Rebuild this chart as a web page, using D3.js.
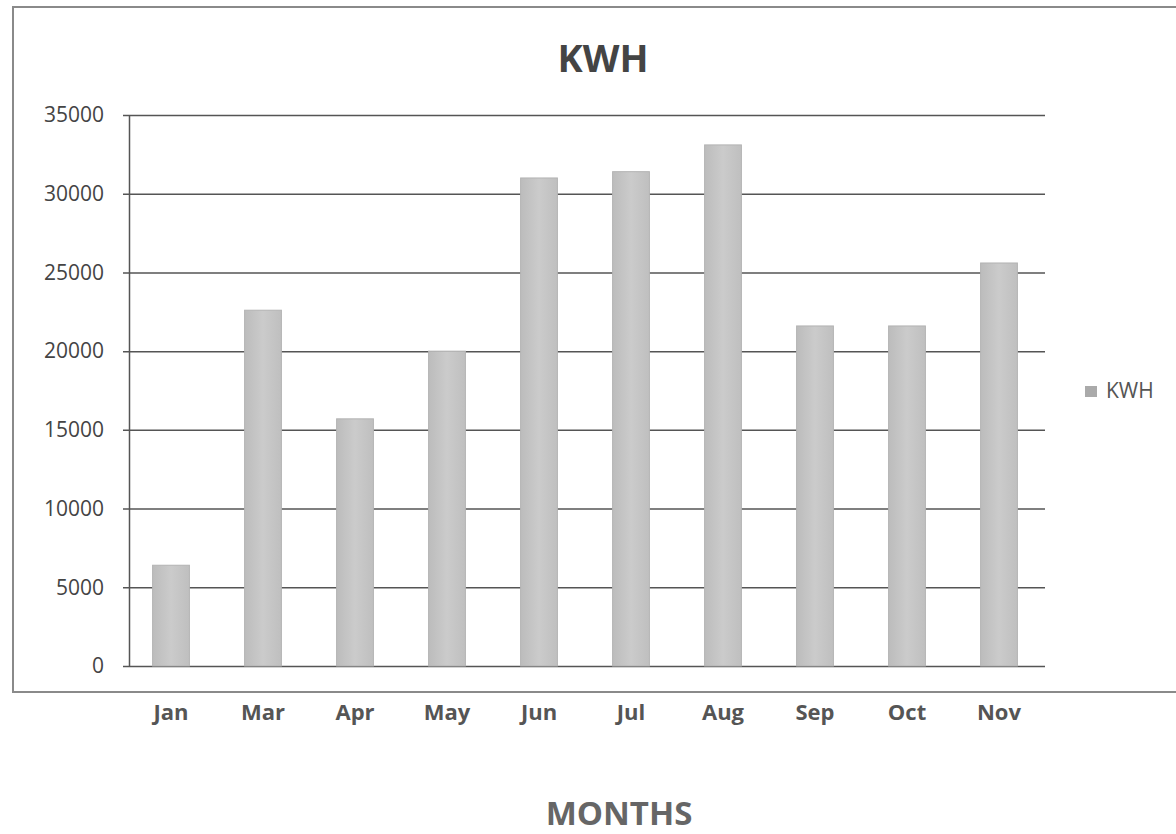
<!DOCTYPE html>
<html>
<head>
<meta charset="utf-8">
<script src="https://cdn.jsdelivr.net/npm/d3@7"></script>
<style>
  body { margin: 0; background: #fff; }
  text { font-family: "Open Sans", "Noto Sans", sans-serif; }
</style>
</head>
<body>
<script>
// chart data
const months = ["Jan", "Mar", "Apr", "May", "Jun", "Jul", "Aug", "Sep", "Oct", "Nov"];
const kwh = [6400, 22600, 15700, 20000, 31000, 31400, 33100, 21600, 21600, 25600];
const yTicks = [0, 5000, 10000, 15000, 20000, 25000, 30000, 35000];

const width = 1176, height = 834;
const plot = { left: 129, right: 1045, top: 115, bottom: 666 };

const svg = d3.select("body").append("svg")
  .attr("width", width)
  .attr("height", height);

// bar shading
const grad = svg.append("defs").append("linearGradient")
  .attr("id", "barFill").attr("x1", 0).attr("x2", 1).attr("y1", 0).attr("y2", 0);
grad.append("stop").attr("offset", "0%").attr("stop-color", "#bcbcbc");
grad.append("stop").attr("offset", "50%").attr("stop-color", "#cbcbcb");
grad.append("stop").attr("offset", "100%").attr("stop-color", "#bfbfbf");

// outer chart frame
svg.append("rect")
  .attr("x", 13).attr("y", 7)
  .attr("width", 1180).attr("height", 685)
  .attr("fill", "none")
  .attr("stroke", "#8a8a8a")
  .attr("stroke-width", 2);

const x = d3.scaleBand()
  .domain(months)
  .range([plot.left - 4, plot.right])
  .paddingInner(0.6)
  .paddingOuter(0.3);

const y = d3.scaleLinear()
  .domain([0, 35000])
  .range([plot.bottom, plot.top]);

// gridlines + y axis
const yAxis = svg.append("g")
  .attr("transform", `translate(${plot.left},0)`)
  .call(d3.axisLeft(y).tickValues(yTicks).tickFormat(d3.format("d"))
    .tickSize(-(plot.right - plot.left)).tickSizeOuter(0).tickPadding(25));
yAxis.select(".domain").attr("stroke", "#555").attr("stroke-width", 1.5);
yAxis.selectAll(".tick line")
  .attr("x1", -6)
  .attr("stroke", "#555")
  .attr("stroke-width", 1.5);
yAxis.selectAll(".tick text")
  .attr("fill", "#444")
  .style("font-size", "21px");

// bars
svg.append("g").selectAll("rect")
  .data(kwh)
  .join("rect")
  .attr("x", (d, i) => x(months[i]))
  .attr("y", d => y(d))
  .attr("width", x.bandwidth())
  .attr("height", d => y(0) - y(d))
  .attr("fill", "url(#barFill)")
  .attr("stroke", "#b3b3b3")
  .attr("stroke-width", 1);

// x axis labels (sit below the frame)
const xAxis = svg.append("g")
  .attr("transform", `translate(0,${plot.bottom})`)
  .call(d3.axisBottom(x).tickSize(0).tickPadding(38));
xAxis.select(".domain").remove();
xAxis.selectAll(".tick text")
  .attr("fill", "#555")
  .style("font-size", "22px")
  .style("font-weight", "bold");

// title
svg.append("text")
  .attr("x", 603).attr("y", 72)
  .attr("text-anchor", "middle")
  .attr("fill", "#444")
  .style("font-size", "38px")
  .style("font-weight", "bold")
  .text("KWH");

// axis title
svg.append("text")
  .attr("x", 619).attr("y", 825)
  .attr("text-anchor", "middle")
  .attr("fill", "#666")
  .style("font-size", "33px")
  .style("font-weight", "bold")
  .text("MONTHS");

// legend
const legend = svg.append("g").attr("transform", "translate(1085,386)");
legend.append("rect")
  .attr("width", 12).attr("height", 11)
  .attr("fill", "#aaa");
legend.append("text")
  .attr("x", 21).attr("y", 12)
  .attr("fill", "#555")
  .style("font-size", "21px")
  .text("KWH");
</script>
</body>
</html>
